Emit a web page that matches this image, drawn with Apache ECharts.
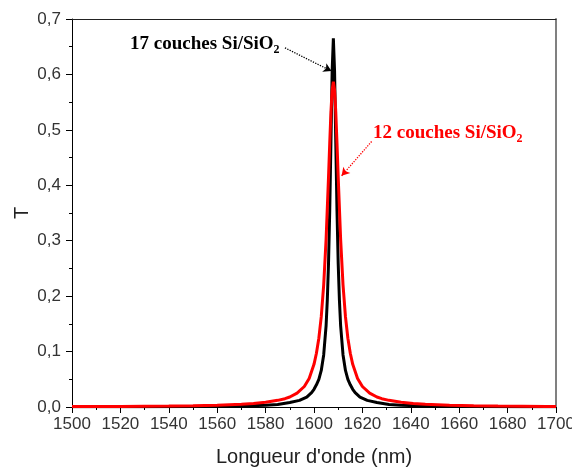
<!DOCTYPE html>
<html>
<head>
<meta charset="utf-8">
<script src="https://cdn.jsdelivr.net/npm/echarts@6/dist/echarts.min.js"></script>
<style>
html,body{margin:0;padding:0;background:#fff;}
#chart{width:572px;height:468px;}
</style>
</head>
<body>
<div id="chart"></div>
<script>
// ---- Data ----
// 17 couches Si/SiO2 (black)
const wl17 = [1500,1530,1550,1560,1570,1580,1585,1590,1594,1597,1599,1600,1601,1602,1603,1604,1605,1605.5,1606,1606.5,1607,1607.5,1608,1608.5,1609,1609.5,1610,1610.5,1611,1612,1613,1614,1615,1616,1617,1619,1622,1626,1631,1636,1646,1656,1666,1686,1700];
const t17  = [0.0003,0.0005,0.0008,0.0012,0.0018,0.0030,0.0045,0.0080,0.012,0.018,0.026,0.032,0.040,0.050,0.066,0.094,0.147,0.193,0.259,0.354,0.478,0.606,0.665,0.606,0.478,0.354,0.259,0.193,0.147,0.094,0.066,0.050,0.040,0.032,0.026,0.018,0.012,0.008,0.0045,0.0030,0.0018,0.0012,0.0008,0.0005,0.0003];
// 12 couches Si/SiO2 (red)
const wl12 = [1500,1520,1540,1550,1560,1570,1575,1580,1585,1588,1590,1593,1596,1598,1600,1601,1602,1603,1604,1605,1606,1606.5,1607,1607.5,1608,1608.5,1609,1609.5,1610,1611,1612,1613,1614,1615,1616,1618,1620,1623,1626,1628,1631,1636,1641,1646,1656,1666,1676,1696,1700];
const t12  = [0.0007,0.0010,0.0016,0.0022,0.0032,0.0050,0.0065,0.0085,0.0120,0.0150,0.0180,0.0250,0.0370,0.0515,0.077,0.097,0.124,0.163,0.220,0.303,0.415,0.476,0.532,0.572,0.587,0.572,0.532,0.476,0.415,0.303,0.220,0.163,0.124,0.097,0.077,0.0515,0.037,0.025,0.018,0.015,0.012,0.0085,0.0065,0.0050,0.0032,0.0022,0.0016,0.0010,0.0009];

const xTicks = [1500,1520,1540,1560,1580,1600,1620,1640,1660,1680,1700];
const yTicks = [0.0,0.1,0.2,0.3,0.4,0.5,0.6,0.7];

const label17 = '17 couches Si/SiO';
const label12 = '12 couches Si/SiO';
const yName = 'T';
const xName = "Longueur d'onde (nm)";
// annotation arrows (data coordinates): [start, end]
const arrow17 = [[1588, 0.648], [1607.2, 0.606]];
const arrow12 = [[1623.8, 0.479], [1611.4, 0.417]];

const pairs = (xs, ys) => xs.map((x, i) => [x, ys[i]]);
const fmtY = v => v.toFixed(1).replace('.', ',');
const fmtX = v => String(Math.round(v));

const chart = echarts.init(document.getElementById('chart'), null, {renderer: 'canvas'});
const labelFont = {fontFamily: 'Liberation Sans, Arial, sans-serif', fontSize: 17, color: '#333'};

function richTitle(text, color, left, top) {
  return {
    text: '{a|' + text + '}{s|2}',
    left: left, top: top, padding: 0,
    textStyle: {
      rich: {
        a: {fontFamily: 'Liberation Serif, Times New Roman, serif', fontWeight: 'bold', fontSize: 19, lineHeight: 24, color: color},
        s: {fontFamily: 'Liberation Serif, Times New Roman, serif', fontWeight: 'bold', fontSize: 12, lineHeight: 10, verticalAlign: 'bottom', color: color}
      }
    }
  };
}

chart.setOption({
  animation: false,
  backgroundColor: '#fff',
  title: [
    richTitle(label17, '#000', 130, 32),
    richTitle(label12, '#ff0000', 373, 121)
  ],
  graphic: [{
    type: 'text', x: 22, y: 213, rotation: Math.PI / 2,
    style: {text: yName, fontFamily: 'Liberation Sans, Arial, sans-serif', fontSize: 20, fill: '#222', align: 'center', verticalAlign: 'middle'}
  }],
  grid: {left: 72, right: 16, top: 19, bottom: 61, containLabel: false, outerBoundsMode: 'none'},
  xAxis: [{
    type: 'value', min: xTicks[0], max: xTicks[xTicks.length - 1], interval: 20,
    name: xName, nameLocation: 'middle', nameGap: 40,
    nameTextStyle: {fontFamily: 'Liberation Sans, Arial, sans-serif', fontSize: 20, color: '#222'},
    axisLine: {show: true, onZero: false, lineStyle: {color: '#000', width: 1}},
    axisTick: {show: true, inside: false, length: 6, lineStyle: {color: '#000'}},
    minorTick: {show: true, splitNumber: 2, length: 3, lineStyle: {color: '#000'}},
    axisLabel: Object.assign({margin: 9, formatter: fmtX, hideOverlap: false}, labelFont),
    splitLine: {show: false}
  }, {
    type: 'value', position: 'top', min: xTicks[0], max: xTicks[xTicks.length - 1],
    axisLine: {show: true, onZero: false, lineStyle: {color: '#222', width: 1}},
    axisTick: {show: false}, axisLabel: {show: false}, splitLine: {show: false}
  }],
  yAxis: [{
    type: 'value', min: yTicks[0], max: yTicks[yTicks.length - 1], interval: 0.1,
    axisLine: {show: true, onZero: false, lineStyle: {color: '#000', width: 1}},
    axisTick: {show: true, inside: false, length: 6, lineStyle: {color: '#000'}},
    minorTick: {show: true, splitNumber: 2, length: 3, lineStyle: {color: '#000'}},
    axisLabel: Object.assign({margin: 11, formatter: fmtY}, labelFont),
    splitLine: {show: false}
  }, {
    type: 'value', position: 'right', min: yTicks[0], max: yTicks[yTicks.length - 1],
    axisLine: {show: true, onZero: false, lineStyle: {color: '#808080', width: 2}},
    axisTick: {show: false}, axisLabel: {show: false}, splitLine: {show: false}
  }],
  series: [{
    name: '17 couches', type: 'line', data: pairs(wl17, t17),
    showSymbol: false, symbol: 'none', smooth: false,
    lineStyle: {color: '#000', width: 3}, itemStyle: {color: '#000'},
    markLine: {
      silent: true, symbol: ['none', 'arrow'], symbolSize: [7, 8],
      label: {show: false},
      lineStyle: {color: '#000', type: 'dotted', width: 1.3},
      data: [[{coord: arrow17[0]}, {coord: arrow17[1]}]]
    }
  }, {
    name: '12 couches', type: 'line', data: pairs(wl12, t12),
    showSymbol: false, symbol: 'none', smooth: false,
    lineStyle: {color: '#ff0000', width: 3}, itemStyle: {color: '#ff0000'},
    markLine: {
      silent: true, symbol: ['none', 'arrow'], symbolSize: [7, 8],
      label: {show: false},
      lineStyle: {color: '#ff0000', type: 'dotted', width: 1.3},
      data: [[{coord: arrow12[0]}, {coord: arrow12[1]}]]
    }
  }]
});
</script>
</body>
</html>
